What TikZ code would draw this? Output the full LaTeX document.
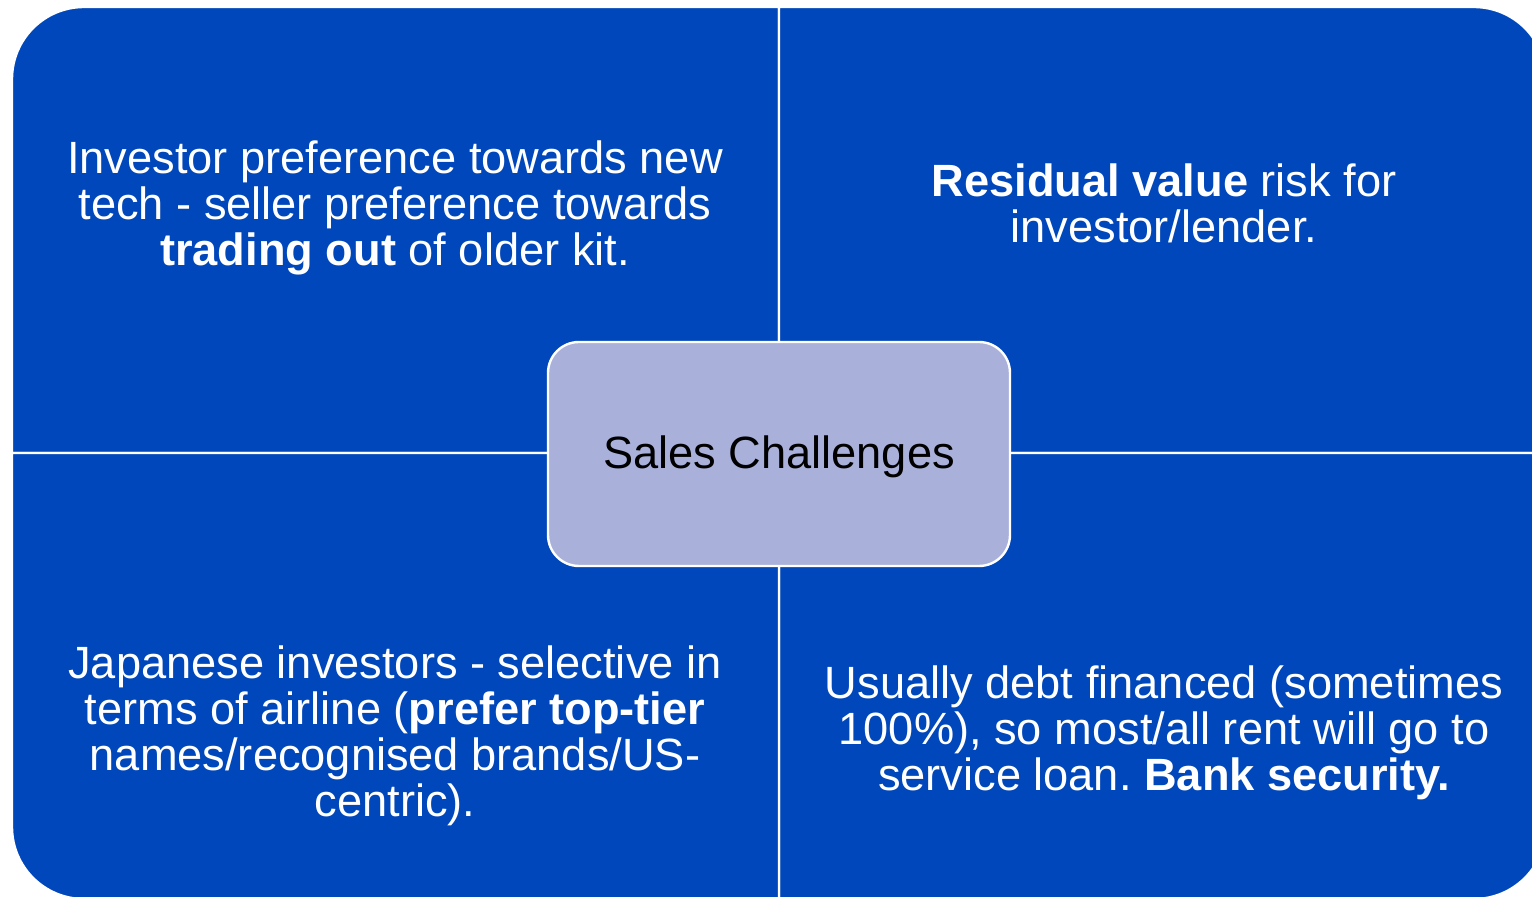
\documentclass[tikz,border=0pt]{standalone}
\usepackage{fontspec}
\setmainfont{Liberation Sans}
\frenchspacing
\definecolor{quadblue}{RGB}{0,71,187}
\definecolor{hubfill}{RGB}{169,177,219}
\begin{document}
\begin{tikzpicture}[x=0.5pt,y=-0.5pt,
  quad/.style={fill=quadblue, draw=white, line width=1.2pt},
  quadtext/.style={text=white, align=center, anchor=base, inner sep=0pt,
    font=\fontsize{22.6}{23}\selectfont},
  hub/.style={fill=hubfill, draw=white, line width=1.2pt, rounded corners=15.5pt,
    minimum width=231pt, minimum height=112pt, text=black,
    font=\fontsize{22.6}{23}\selectfont}]
\useasboundingbox (0,0) rectangle (1532,897);
\clip (0,0) rectangle (1532,897);

% four quadrants, each with one rounded outer corner
\path[quad] (779,453) -- (12,453) -- (12,79)
  arc[start angle=180, end angle=90, radius=36pt] -- (779,7) -- cycle;
\path[quad] (779,7) -- (1474,7)
  arc[start angle=90, end angle=0, radius=36pt] -- (1546,453) -- (779,453) -- cycle;
\path[quad] (779,453) -- (1546,453) -- (1546,827)
  arc[start angle=0, end angle=-90, radius=36pt] -- (779,899) -- cycle;
\path[quad] (12,453) -- (779,453) -- (779,899) -- (84,899)
  arc[start angle=270, end angle=180, radius=36pt] -- cycle;

% quadrant texts (anchored at the baseline of the last line)
\node[quadtext] (tl) at (395,266) {Investor preference towards new\\
  tech - seller preference towards\\ \textbf{trading out} of older kit.};
\node[quadtext] (tr) at (1164,243) {\textbf{Residual value} risk for\\ investor/lender.};
\node[quadtext] (bl) at (395,816) {Japanese investors - selective in\\
  terms of airline (\textbf{prefer top-tier}\\ names/recognised brands/US-\\ centric).};
\node[quadtext] (br) at (1164,791) {Usually debt financed (sometimes\\
  100\%), so most/all rent will go to\\ service loan. \textbf{Bank security.}};

% central hub
\node[hub] (hub) at (779,454) {\raisebox{-1.5pt}[\height][\depth]{Sales Challenges}};
\end{tikzpicture}
\end{document}
